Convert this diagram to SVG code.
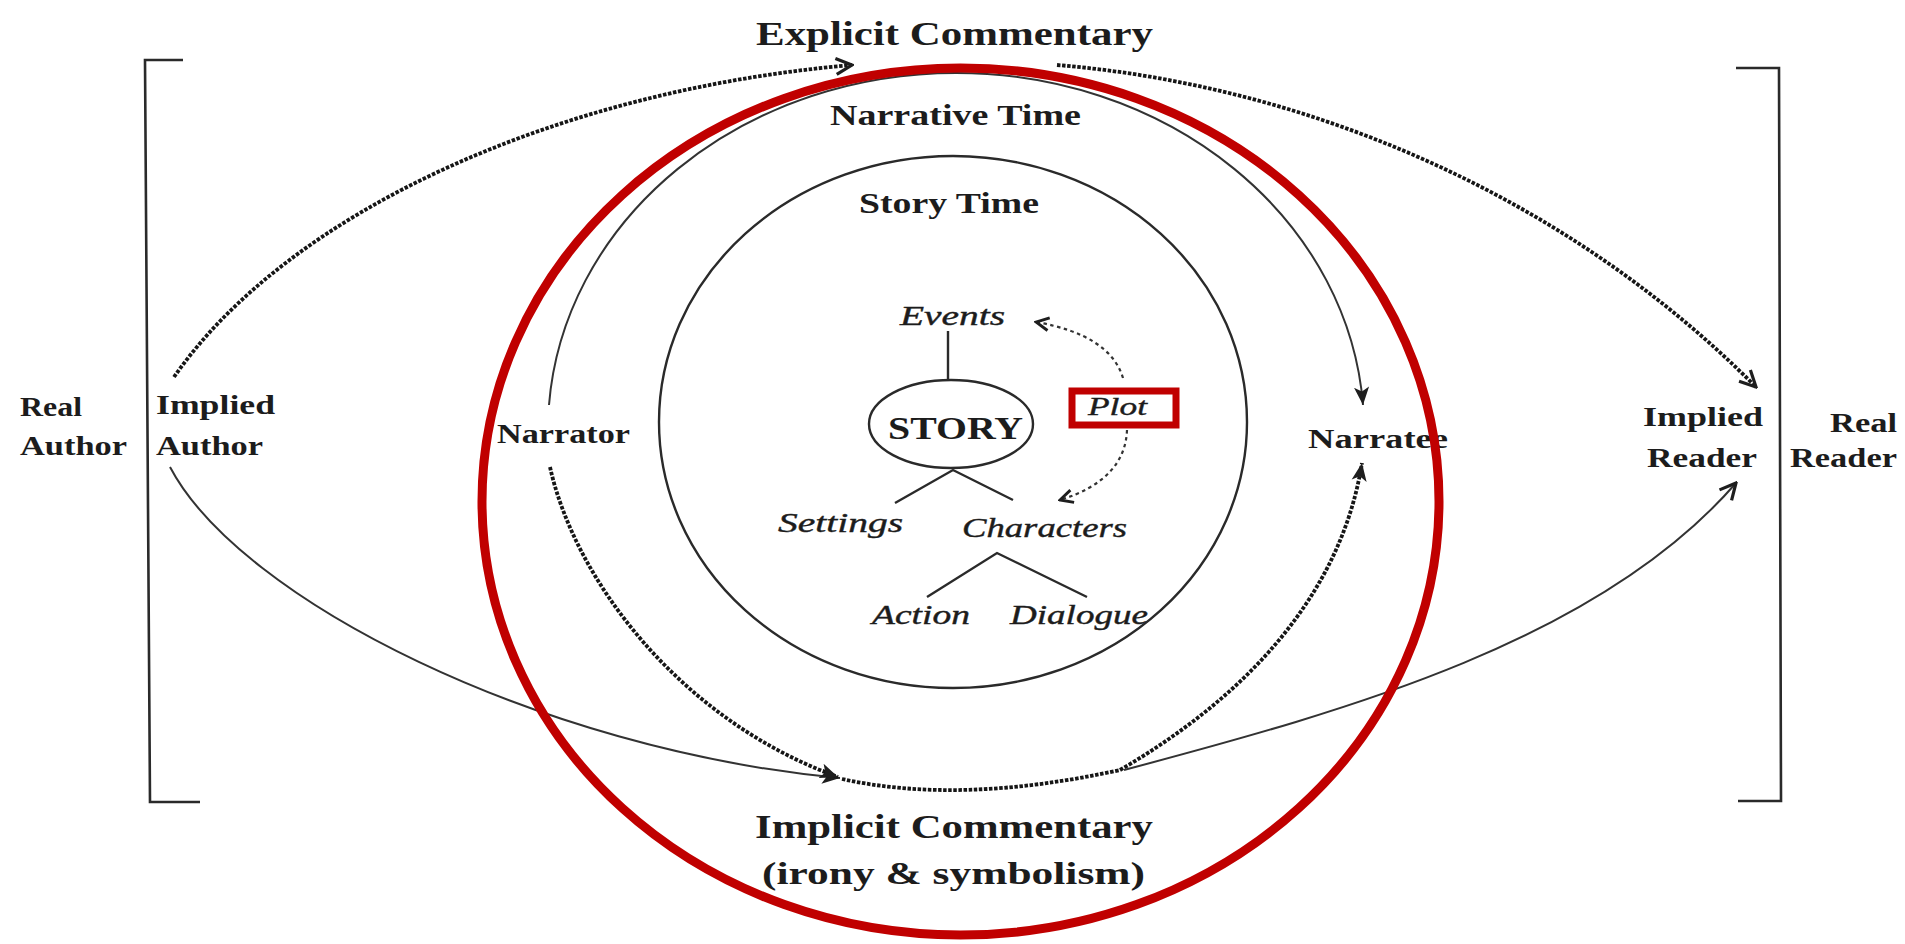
<svg xmlns="http://www.w3.org/2000/svg" width="1905" height="944" viewBox="0 0 1905 944">
<style>
.b{font-family:"Liberation Serif",serif;font-weight:bold;fill:#1c1c1c;}
.i{font-family:"Liberation Serif",serif;font-style:italic;fill:#1c1c1c;stroke:#1c1c1c;stroke-width:0.4;}
.solid{fill:none;stroke:#2a2a2a;stroke-width:2.4;}
.thin{fill:none;stroke:#333;stroke-width:2;}
.dot{fill:none;stroke:#161616;stroke-width:3.8;stroke-dasharray:3.5 1.6;}
.fdot{fill:none;stroke:#333;stroke-width:2.2;stroke-dasharray:3.5 3.5;}
.brk{fill:none;stroke:#2a2a2a;stroke-width:2.6;}
.red{fill:none;stroke:#C00000;}
</style>
<defs>
<marker id="tri" viewBox="0 0 10 10" refX="10" refY="5" markerWidth="18" markerHeight="18" markerUnits="userSpaceOnUse" orient="auto"><path d="M0,0.8 L10,5 L0,9.2 L2.5,5 z" fill="#1e1e1e"/></marker>
<marker id="chev" viewBox="0 0 10 10" refX="9" refY="5" markerWidth="20" markerHeight="20" markerUnits="userSpaceOnUse" orient="auto"><path d="M1,1 L9,5 L1,9" fill="none" stroke="#1e1e1e" stroke-width="1.6"/></marker>
<marker id="chs" viewBox="0 0 10 10" refX="9" refY="5" markerWidth="16" markerHeight="16" markerUnits="userSpaceOnUse" orient="auto"><path d="M1,1 L9,5 L1,9" fill="none" stroke="#1e1e1e" stroke-width="1.8"/></marker>
</defs>
<rect width="1905" height="944" fill="#ffffff"/>

<g id="brackets">
<path class="brk" d="M183,60 L145,60 L150,802 L200,802"/>
<path class="brk" d="M1736,68 L1779,68 L1781,801 L1738,801"/>
</g>

<g id="real-author"><text class="b" font-size="28" x="20" y="416" textLength="62" lengthAdjust="spacingAndGlyphs">Real</text><text class="b" font-size="28" x="20" y="455" textLength="107" lengthAdjust="spacingAndGlyphs">Author</text></g>
<g id="implied-author"><text class="b" font-size="28" x="156" y="414" textLength="119" lengthAdjust="spacingAndGlyphs">Implied</text><text class="b" font-size="28" x="156" y="455" textLength="107" lengthAdjust="spacingAndGlyphs">Author</text></g>
<g id="narrator"><text class="b" font-size="28" x="497" y="443" textLength="133" lengthAdjust="spacingAndGlyphs">Narrator</text></g>
<g id="narratee"><text class="b" font-size="28" x="1308" y="448" textLength="140" lengthAdjust="spacingAndGlyphs">Narratee</text></g>
<g id="implied-reader"><text class="b" font-size="28" x="1643" y="426" textLength="120" lengthAdjust="spacingAndGlyphs">Implied</text><text class="b" font-size="28" x="1647" y="467" textLength="110" lengthAdjust="spacingAndGlyphs">Reader</text></g>
<g id="real-reader"><text class="b" font-size="28" x="1830" y="432" textLength="67" lengthAdjust="spacingAndGlyphs">Real</text><text class="b" font-size="28" x="1790" y="467" textLength="107" lengthAdjust="spacingAndGlyphs">Reader</text></g>
<g id="explicit-commentary"><text class="b" font-size="34" x="756" y="45" textLength="397" lengthAdjust="spacingAndGlyphs">Explicit Commentary</text></g>
<g id="narrative-time"><text class="b" font-size="30" x="830" y="125" textLength="251" lengthAdjust="spacingAndGlyphs">Narrative Time</text></g>
<g id="story-time"><ellipse class="solid" cx="953" cy="422" rx="294" ry="266"/><text class="b" font-size="30" x="859" y="213" textLength="180" lengthAdjust="spacingAndGlyphs">Story Time</text></g>
<g id="story"><ellipse class="solid" cx="951" cy="424" rx="82" ry="44"/><text class="b" font-size="31" x="888" y="439" textLength="135" lengthAdjust="spacingAndGlyphs">STORY</text></g>
<g id="events"><text class="i" font-size="28" x="900" y="325" textLength="105" lengthAdjust="spacingAndGlyphs">Events</text></g>
<g id="plot"><text class="i" font-size="26" x="1088" y="415" textLength="59" lengthAdjust="spacingAndGlyphs">Plot</text></g>
<g id="settings"><text class="i" font-size="28" x="778" y="532" textLength="125" lengthAdjust="spacingAndGlyphs">Settings</text></g>
<g id="characters"><text class="i" font-size="28" x="962" y="537" textLength="165" lengthAdjust="spacingAndGlyphs">Characters</text></g>
<g id="action"><text class="i" font-size="27" x="872" y="624" textLength="98" lengthAdjust="spacingAndGlyphs">Action</text></g>
<g id="dialogue"><text class="i" font-size="27" x="1010" y="624" textLength="138" lengthAdjust="spacingAndGlyphs">Dialogue</text></g>
<g id="implicit-commentary"><text class="b" font-size="34" x="755" y="838" textLength="398" lengthAdjust="spacingAndGlyphs">Implicit Commentary</text><text class="b" font-size="32" x="762" y="884" textLength="383" lengthAdjust="spacingAndGlyphs">(irony &amp; symbolism)</text></g>

<g id="connectors">
<path class="thin" d="M549,405 A408,357 0 0 1 1363,405" marker-end="url(#tri)"/>
<path class="dot" d="M174,377 C290,210 560,90 852,65" marker-end="url(#chev)"/>
<path class="dot" d="M1057,65 C1300,85 1560,190 1756,387" marker-end="url(#chev)"/>
<path class="thin" d="M170,467 C240,600 540,750 840,778" marker-end="url(#tri)"/>
<path class="dot" d="M550,467 C575,580 680,720 838,777" marker-end="url(#tri)"/>
<path class="dot" d="M842,779 Q960,805 1120,770"/>
<path class="dot" d="M1120,770 C1240,700 1340,600 1362,463" marker-end="url(#tri)"/>
<path class="thin" d="M1124,770 C1350,710 1600,640 1736,483" marker-end="url(#chev)"/>
<path class="fdot" d="M1123,378 Q1110,335 1036,322" marker-end="url(#chs)"/>
<path class="fdot" d="M1127,430 Q1125,480 1060,500" marker-end="url(#chs)"/>
<path class="solid" d="M948,331 L948,380"/>
<path class="solid" d="M895,503 L953,470 L1013,500"/>
<path class="solid" d="M927,597 L997,553 L1087,597"/>
</g>

<g id="annotations">
<ellipse class="red" stroke-width="9" cx="960.5" cy="501.5" rx="478.5" ry="433.5"/>
<rect class="red" stroke-width="7" x="1072" y="391" width="104" height="34"/>
</g>
</svg>
